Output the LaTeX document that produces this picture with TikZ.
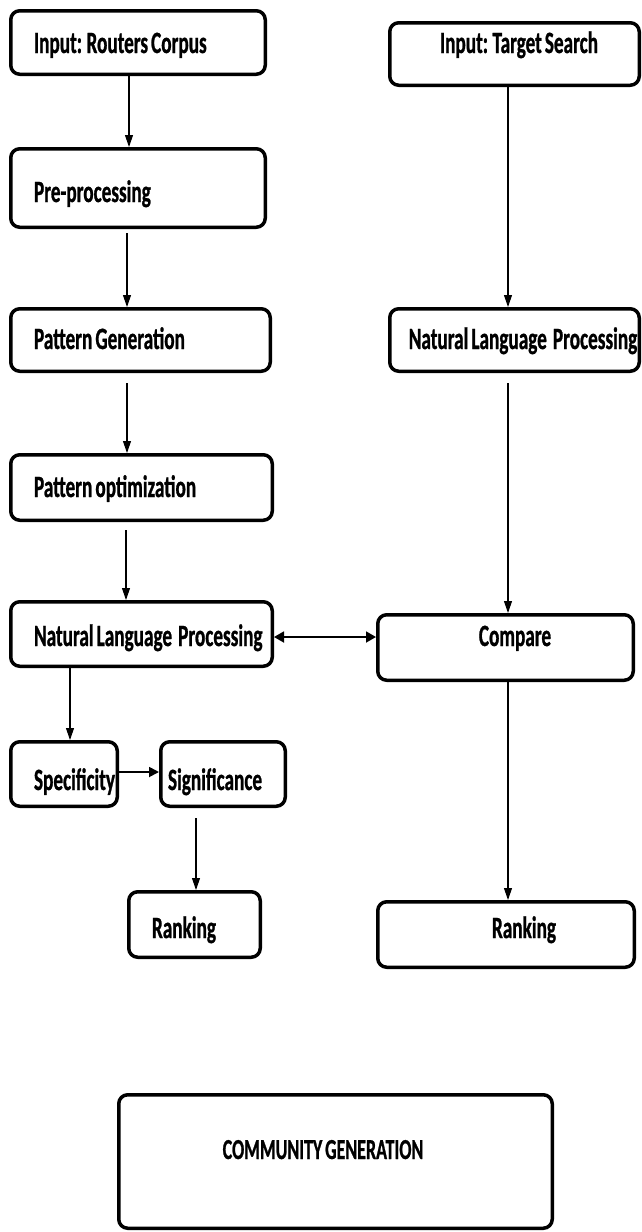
\documentclass[tikz,border=0pt]{standalone}
\usepackage{fontspec}
\setmainfont{Carlito}[FakeStretch=0.62, WordSpace=0.7, BoldFeatures={FakeBold=0.8}]
\usetikzlibrary{arrows.meta}
\newcommand\txt[4]{\raisebox{#2}[0pt][0pt]{\makebox[0pt][l]{\hspace*{#1}\makebox[0pt][#3]{#4}}}}
\begin{document}
\begin{tikzpicture}[x=1pt,y=-1pt,
  box/.style={draw, line width=3.5pt, rounded corners=9pt, inner sep=0pt,
    font=\fontsize{31}{34}\selectfont\bfseries},
  arr/.style={line width=1.1pt, -{Triangle[length=12pt,width=8pt]}},
  harr/.style={line width=1.8pt, -{Triangle[length=10pt,width=10pt]}},
  darr/.style={line width=1.8pt, {Triangle[length=10pt,width=11pt]}-{Triangle[length=10pt,width=11pt]}},
]
\useasboundingbox[fill=white] (0,0) rectangle (642,1232);

\node[box, minimum width=254.5pt, minimum height=63.5pt] (b1) at (138,42.5) {\txt{-104pt}{-10.5pt}{l}{Input: Routers Corpus}};
\node[box, minimum width=249.5pt, minimum height=62.5pt] (b2) at (514.5,54) {\txt{4.5pt}{1pt}{c}{Input: Target Search}};
\node[box, minimum width=254.5pt, minimum height=78.5pt] (b3) at (138,188) {\txt{-104pt}{-14pt}{l}{Pre-processing}};
\node[box, minimum width=259.5pt, minimum height=62.5pt] (b4) at (140.5,340) {\txt{-106.5pt}{-9pt}{l}{Pattern Generation}};
\node[box, minimum width=249.5pt, minimum height=62.5pt] (b5) at (514.5,340) {\txt{8.5pt}{-9pt}{c}{Natural Language~~Processing}};
\node[box, minimum width=261.5pt, minimum height=65.5pt] (b6) at (141.5,487.5) {\txt{-107.5pt}{-9.5pt}{l}{Pattern optimization}};
\node[box, minimum width=261.5pt, minimum height=64.5pt] (b7) at (141.5,634) {\txt{-107.5pt}{-12pt}{l}{Natural Language~~Processing}};
\node[box, minimum width=255.5pt, minimum height=65.5pt] (b8) at (505.5,647.5) {\txt{9.5pt}{1.5pt}{c}{Compare}};
\node[box, minimum width=106.5pt, minimum height=64.5pt] (b9) at (64,774) {\txt{-30pt}{-16pt}{l}{Specificity}};
\node[box, minimum width=124.5pt, minimum height=64.5pt] (b10) at (223,774) {\txt{-55pt}{-16pt}{l}{Significance}};
\node[box, minimum width=131.5pt, minimum height=65.5pt] (b11) at (194.5,924.5) {\txt{-42.5pt}{-13.5pt}{l}{Ranking}};
\node[box, minimum width=256.5pt, minimum height=65.5pt] (b12) at (506,934.5) {\txt{18pt}{-3.5pt}{c}{Ranking}};
\node[box, minimum width=433.5pt, minimum height=133.5pt, font=\fontsize{29}{32}\selectfont\bfseries] (b13) at (335.5,1161.5) {\txt{-12.5pt}{2.5pt}{c}{COMMUNITY GENERATION}};

\draw[arr] ([xshift=-9pt]b1.south) -- ([xshift=-9pt]b3.north);
\draw[arr, shorten <=4pt] ([xshift=-11pt]b3.south) -- ([xshift=-13.5pt]b4.north);
\draw[arr, shorten <=10pt] ([xshift=-13.5pt]b4.south) -- ([xshift=-14.5pt]b6.north);
\draw[arr, shorten <=8pt] ([xshift=-15.5pt]b6.south) -- ([xshift=-15.5pt]b7.north);
\draw[arr] ([xshift=-6.5pt]b2.south) -- ([xshift=-6.5pt]b5.north);
\draw[arr, shorten <=10pt] ([xshift=-6.5pt]b5.south) -- ([xshift=2.5pt]b8.north);
\coordinate (d1) at ([yshift=-3pt]b7.east);
\draw[darr] (d1) -- (d1 -| b8.west);
\draw[arr] ([xshift=-71.5pt]b7.south) -- ([xshift=6pt]b9.north);
\coordinate (d2) at ([yshift=2pt]b9.east);
\draw[harr] (d2) -- (d2 -| b10.west);
\draw[arr, shorten <=10pt] ([xshift=-27pt]b10.south) -- ([xshift=1.5pt]b11.north);
\draw[arr] ([xshift=2.5pt]b8.south) -- ([xshift=2pt]b12.north);
\end{tikzpicture}
\end{document}
